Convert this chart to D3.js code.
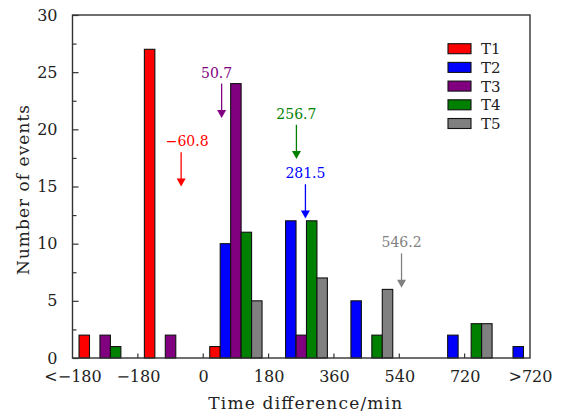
<!DOCTYPE html>
<html>
<head>
<meta charset="utf-8">
<script src="https://cdn.jsdelivr.net/npm/d3@7"></script>
<style>
  html, body { margin: 0; padding: 0; background: #fff; }
  svg { display: block; }
  text { font-family: "DejaVu Serif", serif; }
</style>
</head>
<body>
<svg id="chart" width="564" height="414"></svg>
<script>
// ---- data ----
const bins = ["<-180", "-180..0", "0..180", "180..360", "360..540", "540..720", ">720"];
const seriesNames = ["T1", "T2", "T3", "T4", "T5"];
const seriesColors = ["#ff0000", "#0000ff", "#800080", "#008000", "#808080"];
const T1 = [2, 27, 1, 0, 0, 0, 0];
const T2 = [0, 0, 10, 12, 5, 2, 1];
const T3 = [2, 2, 24, 2, 0, 0, 0];
const T4 = [1, 0, 11, 12, 2, 0, 3];
const T5 = [0, 0, 5, 7, 6, 0, 3];
// order of the series within each group as drawn in the source
const groupOrderA = ["T1", "T2", "T3", "T4", "T5"];
const groupOrderB = ["T4", "T5", "T1", "T3", "T2"];
const groupOrders = [groupOrderA, groupOrderA, groupOrderA, groupOrderA, groupOrderA, groupOrderB, groupOrderB];
const tickMinutes = [-360, -180, 0, 180, 360, 540, 720, 900];
const tickLabels = ["<\u2212180", "\u2212180", "0", "180", "360", "540", "720", ">720"];
const yTicks = [0, 5, 10, 15, 20, 25, 30];
const annLabels = ["\u221260.8", "50.7", "256.7", "281.5", "546.2"];
const annMinutes = [-60.8, 50.7, 256.7, 281.5, 546.2];
const annTips = [15, 21, 17.4, 12.2, 6.15];
const annSeries = ["T1", "T3", "T4", "T2", "T5"];

const seriesValues = { T1, T2, T3, T4, T5 };
const color = d3.scaleOrdinal().domain(seriesNames).range(seriesColors);
const INK = "#222";
// label nudges (styling) for the annotation texts
const annLabelDx = [6, -5, 0, 0, 0];

// ---- layout ----
const L = 72.5, R = 530, T = 15, B = 358;
const svg = d3.select("#chart");

const xMin = d3.scaleLinear().domain([-360, 900]).range([L, R]);
const xGroup = d3.scaleBand().domain(bins).range([L, R]).padding(0);
const xInner = d3.scaleBand().domain([0, 1, 2, 3, 4]).range([0, xGroup.bandwidth()])
  .paddingInner(0).paddingOuter(0.625);
const y = d3.scaleLinear().domain([0, 30]).range([B, T]);

// ---- bars ----
const barData = [];
bins.forEach((b, gi) => {
  groupOrders[gi].forEach((s, si) => {
    const v = seriesValues[s][gi];
    if (v > 0) barData.push({ bin: b, slot: si, series: s, value: v });
  });
});
svg.append("g").selectAll("rect").data(barData).join("rect")
  .attr("x", d => xGroup(d.bin) + xInner(d.slot))
  .attr("y", d => y(d.value))
  .attr("width", xInner.bandwidth())
  .attr("height", d => y(0) - y(d.value))
  .attr("fill", d => color(d.series))
  .attr("stroke", "#111")
  .attr("stroke-width", 1.1);

// ---- frame ----
svg.append("rect").attr("x", L).attr("y", T).attr("width", R - L).attr("height", B - T)
  .attr("fill", "none").attr("stroke", "#333").attr("stroke-width", 1.4);

// ---- y axis ----
const yAxis = d3.axisLeft(y).tickValues(yTicks).tickSize(-6).tickPadding(15)
  .tickFormat(d3.format("d"));
const gy = svg.append("g").attr("transform", `translate(${L},0)`).call(yAxis);
gy.select(".domain").remove();
gy.selectAll("line").attr("stroke", "#333").attr("stroke-width", 1.2);
gy.selectAll("text").attr("font-size", 16).attr("font-family", "DejaVu Serif").attr("fill", INK);
const yMinor = d3.axisLeft(y).tickValues(d3.range(2.5, 30, 5)).tickSize(-4).tickFormat("");
const gym = svg.append("g").attr("transform", `translate(${L},0)`).call(yMinor);
gym.select(".domain").remove();
gym.selectAll("line").attr("stroke", "#333").attr("stroke-width", 1.2);

// ---- x axis ----
const xAxis = d3.axisBottom(xMin).tickValues(tickMinutes).tickSize(0).tickPadding(13)
  .tickFormat((d, i) => tickLabels[i]);
const gx = svg.append("g").attr("transform", `translate(0,${B})`).call(xAxis);
gx.select(".domain").remove();
gx.selectAll("text").attr("font-size", 16).attr("font-family", "DejaVu Serif").attr("fill", INK);
svg.append("g").selectAll("line").data(tickMinutes.slice(1, -1)).join("line")
  .attr("x1", d => xMin(d)).attr("x2", d => xMin(d))
  .attr("y1", B).attr("y2", B - 4.5)
  .attr("stroke", "#333").attr("stroke-width", 1.2);

// ---- axis titles ----
svg.append("text").attr("x", (L + R) / 2 + 4).attr("y", 408.5).attr("text-anchor", "middle")
  .attr("font-size", 17).attr("fill", INK)
  .attr("textLength", 194).attr("lengthAdjust", "spacing")
  .text("Time difference/min");
svg.append("text").attr("transform", `translate(29,190) rotate(-90)`)
  .attr("text-anchor", "middle").attr("font-size", 17).attr("fill", INK)
  .attr("textLength", 170).attr("lengthAdjust", "spacing")
  .text("Number of events");

// ---- annotations ----
const ann = annLabels.map((l, i) => ({ label: l, m: annMinutes[i], tip: annTips[i], s: annSeries[i], dx: annLabelDx[i] }));
const ga = svg.append("g");
ann.forEach(a => {
  const x0 = xMin(a.m), yTip = y(a.tip), yTop = y(a.tip + 3);
  const c = color(a.s);
  ga.append("line").attr("x1", x0).attr("x2", x0).attr("y1", yTop).attr("y2", yTip - 7)
    .attr("stroke", c).attr("stroke-width", 1.3);
  ga.append("path").attr("d", `M${x0 - 4.5},${yTip - 8}L${x0 + 4.5},${yTip - 8}L${x0},${yTip}Z`)
    .attr("fill", c);
  ga.append("text").attr("x", x0 + a.dx).attr("y", yTop - 6).attr("text-anchor", "middle")
    .attr("font-size", 14).attr("fill", c).text(a.label);
});

// ---- legend ----
const lg = svg.append("g").attr("transform", "translate(448,43.7)");
seriesNames.forEach((s, i) => {
  const row = lg.append("g").attr("transform", `translate(0,${i * 18.7})`);
  row.append("rect").attr("width", 23).attr("height", 10).attr("fill", color(s))
    .attr("stroke", "#111").attr("stroke-width", 1.1);
  row.append("text").attr("x", 33).attr("y", 10.6).attr("font-size", 15).attr("fill", INK).text(s);
});
</script>
</body>
</html>
